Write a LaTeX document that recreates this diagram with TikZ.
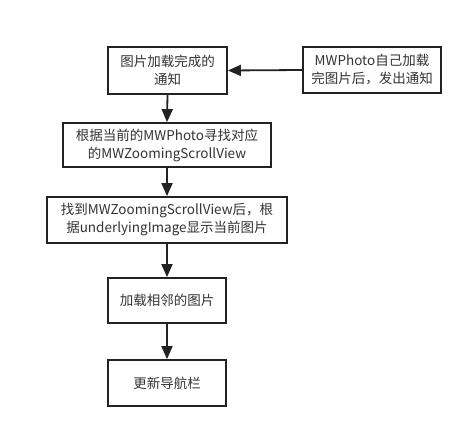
\documentclass[tikz,border=0pt]{standalone}
\usepackage{fontspec}
\newfontfamily\cjk{Noto Sans CJK SC}
\usetikzlibrary{arrows.meta}
\definecolor{linecol}{HTML}{222222}
\definecolor{txtcol}{HTML}{333333}
\tikzset{
  boxnode/.style={draw=linecol, line width=1.8pt, fill=white, inner sep=0pt,
    align=center, text=txtcol, font=\cjk\fontsize{13.5}{18}\selectfont},
  flowarrow/.style={draw=linecol, line width=1.8pt, -{Triangle[length=13pt,width=11pt]}}
}
\begin{document}
\begin{tikzpicture}[x=1pt,y=-1pt]
\useasboundingbox[fill=white] (0,0) rectangle (473,438);
\node[boxnode, minimum width=119pt, minimum height=47pt] (b1) at (167.5,70.5) {图片加载完成的\\通知};
\node[boxnode, minimum width=138pt, minimum height=46pt] (src) at (372,70) {MWPhoto自己加载\\完图片后，发出通知};
\node[boxnode, minimum width=208pt, minimum height=44pt] (b2) at (167,145) {根据当前的MWPhoto寻找对应\\的MWZoomingScrollView};
\node[boxnode, minimum width=240pt, minimum height=46pt] (b3) at (167,220) {找到MWZoomingScrollView后，根\\据underlyingImage显示当前图片};
\node[boxnode, minimum width=118pt, minimum height=45pt] (b4) at (167,300.5) {加载相邻的图片};
\node[boxnode, minimum width=118pt, minimum height=46pt] (b5) at (167,383) {更新导航栏};
\draw[flowarrow] (src.west) -- (b1.east);
\draw[flowarrow] (b1.south) -- (b2.north);
\draw[flowarrow] (b2.south) -- (b3.north);
\draw[flowarrow] (b3.south) -- (b4.north);
\draw[flowarrow] (b4.south) -- (b5.north);
\end{tikzpicture}
\end{document}
